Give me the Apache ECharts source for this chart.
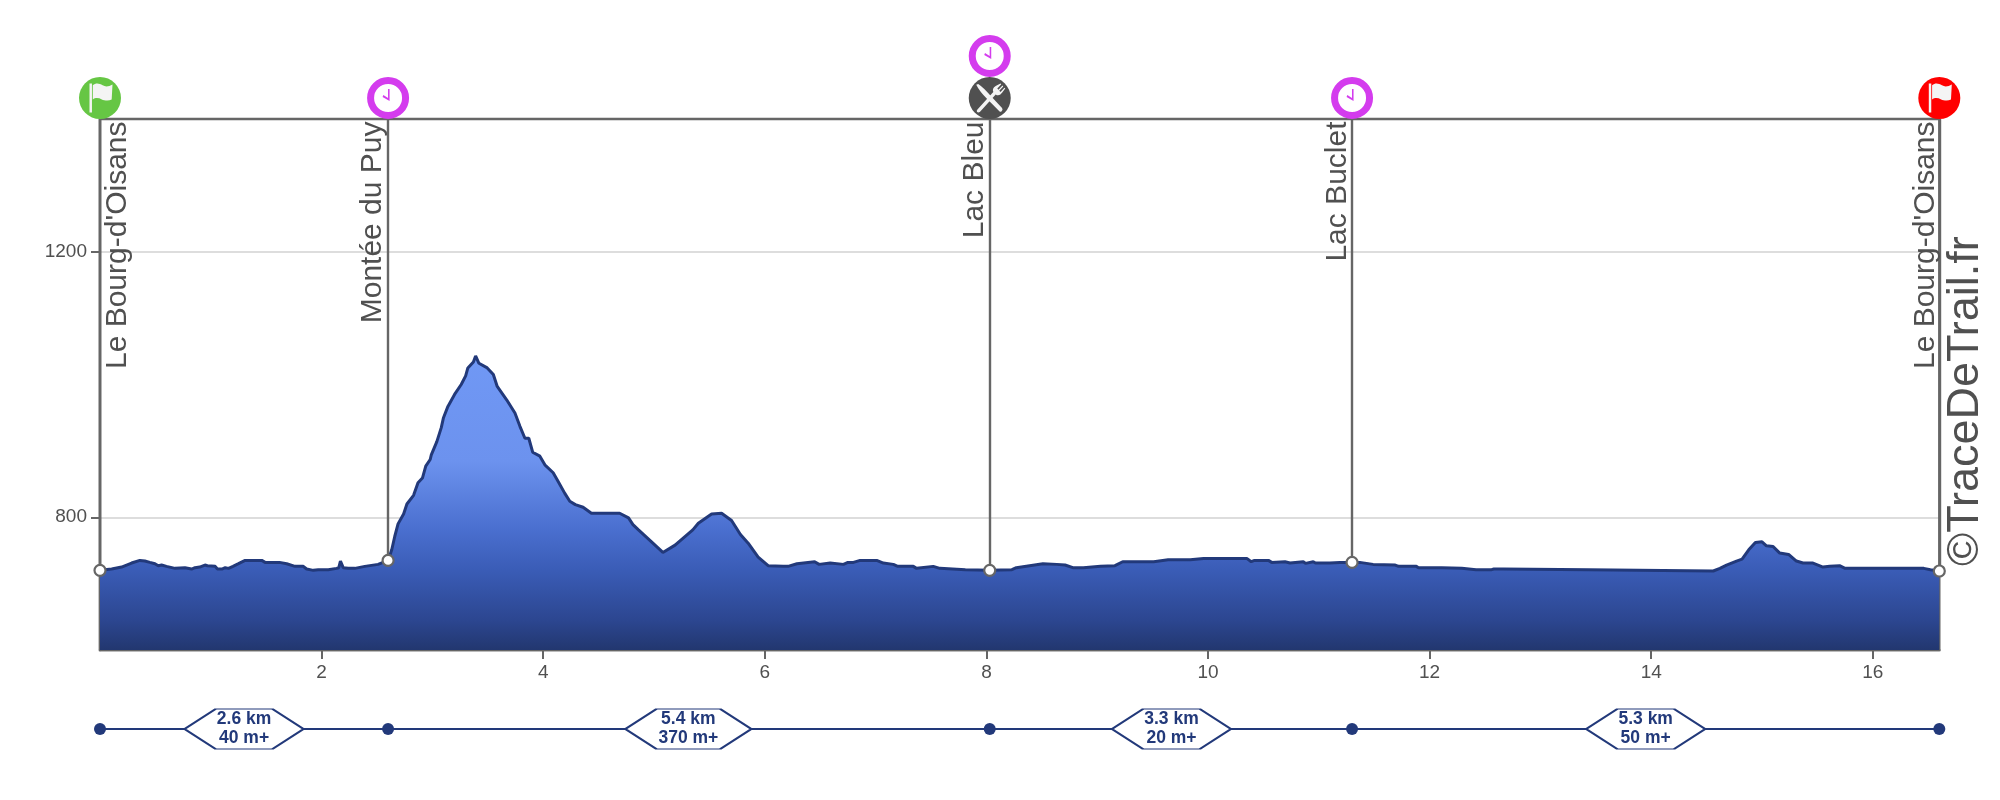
<!DOCTYPE html>
<html>
<head>
<meta charset="utf-8">
<style>html,body{margin:0;padding:0;background:#fff}#c{width:2000px;height:800px}</style>
<script src="https://cdn.jsdelivr.net/npm/echarts@6/dist/echarts.min.js"></script>
</head>
<body>
<div id="c"></div>
<script>
const profile = [
[0,720],[.105,722],[.195,725],[.285,731],[.36,735],[.405,734],[.45,732],[.496,730],[.526,727],[.556,728],[.6,726],[.677,723],[.767,724],[.827,722],[.857,724],[.9,725],[.947,728],[.97,727],[1.04,726],[1.06,722],[1.1,722],[1.13,724],[1.16,723],[1.2,726],[1.25,730],[1.31,735],[1.46,735],[1.49,732],[1.62,732],[1.685,730],[1.76,726],[1.835,726],[1.865,722],[1.925,720],[1.97,721],[2.06,721],[2.135,723],[2.155,724],[2.17,734],[2.195,724],[2.24,723],[2.3,723],[2.39,726],[2.51,729],[2.6,735],
[2.633,751],[2.66,771],[2.69,790],[2.74,805],[2.77,820],[2.83,833],[2.87,852],[2.91,859],[2.94,877],[2.98,887],[2.99,894],[3.04,914],[3.08,935],[3.1,950],[3.14,967],[3.2,985],[3.26,1000],[3.3,1013],[3.32,1025],[3.37,1034],[3.39,1043],[3.42,1032],[3.495,1025],[3.55,1015],[3.585,997],[3.67,977],[3.745,957],[3.79,937],[3.835,919],[3.87,919],[3.905,898],[3.97,892],[4.015,879],[4.09,867],[4.135,854],[4.195,836],[4.24,824],[4.29,819],[4.36,815],[4.435,806],[4.57,806],[4.69,806],[4.77,799],[4.81,789],[4.86,781],[4.99,761],[5.08,747],[5.19,758],[5.35,781],[5.4,791],[5.52,805],[5.61,806],[5.7,795],[5.78,774],[5.85,761],[5.94,740],[6.03,727],[6.165,726],[6.21,726],[6.29,730],[6.45,733],[6.49,729],[6.59,731],[6.71,729],[6.75,732],[6.8,732],[6.86,735],[7.01,735],[7.07,731],[7.16,729],[7.2,726],[7.34,726],[7.37,723],[7.52,726],[7.58,723],[7.81,721],[8.03,720],
[8.23,721],[8.27,724],[8.51,730],[8.635,729],[8.65,732],[8.71,728],[8.78,724],[8.875,724],[9.03,726],[9.16,727],[9.23,733],[9.51,733],[9.64,736],[9.84,736],[9.96,738],[10.35,738],[10.39,733],[10.42,735],[10.545,735],[10.575,732],[10.695,733],[10.74,731],[10.86,733],[10.88,730.5],[10.95,733],[10.97,731],[11.1,731],[11.19,732],[11.3,732],
[11.37,732],[11.49,729],[11.69,728],[11.72,726],[11.88,726],[11.9,724],[12.11,724],[12.12,723],[12.29,723],[12.42,721],[12.56,721],[12.58,722],[12.665,722],[12.68,721],[13.43,721],[13.435,719],[14.56,719],[14.62,723],[14.68,728],[14.77,734],[14.82,737],[14.88,751],[14.94,762],[15,763],[15.04,757],[15.1,756],[15.16,746],[15.24,744],[15.31,734],[15.37,731],[15.46,731],[15.55,725],[15.61,726],[15.7,727],[15.75,723],[16.46,723],[16.52,721],[16.6,719]
];
const waypointNames = ["Le Bourg-d'Oisans","Montée du Puy","Lac Bleu","Lac Buclet","Le Bourg-d'Oisans"];
const waypointKm = [0,2.6,8.03,11.3,16.6];
const waypointEle = [720,735,720,732,719];
const sectionKm = [1.3,5.31,9.67,13.95];
const sectionDist = ["2.6 km","5.4 km","3.3 km","5.3 km"];
const sectionGain = ["40 m+","370 m+","20 m+","50 m+"];
const xTicks = [2,4,6,8,10,12,14,16];
const yTicks = [800,1200];

const FONT = '"Liberation Sans", Arial, sans-serif';
const NAVY = '#22397a';
const GREY = '#666666';
const TEXT = '#505050';
const PURPLE = '#d43cee';
const TOP = 1400;
const NAME_NUDGE = [3,0,1,1,2];

const FLAG = 'path://M2 3L5 3L5 34L2 34ZM6 5C10 2 14 3 18 5C22 7 26 6 30 4L29 20C25 22 20 21 17 20C13 18 9 18 6 20Z';
const HANDS = 'path://M7 0L9 0L9 12L0 8L1 6L7 9Z';
const CUTLERY = 'path://M1 3L6 1Q20 10 36 28L66 58Q69 62 65 66Q61 69 58 65L28 36Q10 20 1 3ZM4 62L44 20L50 26L10 68Q6 70 3 68Q1 65 4 62ZM44 20Q40 12 50 6L62 0L64 2L54 12L57 15L67 5L69 7L59 17L62 20L72 10L74 12L66 22Q58 32 50 26Z';
const HEX_A = 'path://M0 20L31 0L88 0L119 20L88 40L31 40Z';
const HEX_B = 'path://M0 20L31 0L95 0L126 20L95 40L31 40Z';

const flatBadges = [
  {km:0, fill:'#66c644', glyph:FLAG, gs:[23,29], gx:1, gy:0, row:0},
  {km:16.6, fill:'#ff0000', glyph:FLAG, gs:[23,29], gx:1, gy:0, row:0},
  {km:8.03, fill:'#505050', glyph:CUTLERY, gs:[29,29], gx:1, gy:0, row:0}
];
const clocks = [{km:2.6,row:0},{km:8.03,row:1},{km:11.3,row:0}];
const rowOffset = r => r === 0 ? -21 : -63;

const chart = echarts.init(document.getElementById('c'), null, {renderer:'canvas'});
chart.setOption({
  animation:false,
  backgroundColor:'#fff',
  textStyle:{fontFamily:FONT},
  grid:[
    {left:100, top:119, width:1839.3, height:531, show:true, backgroundColor:'transparent', borderColor:GREY, borderWidth:2.4, containLabel:false, z:1},
    {left:100, top:699, width:1839.3, height:60, show:false}
  ],
  xAxis:[
    {type:'value', gridIndex:0, min:0, max:16.6,
     axisLine:{show:true,onZero:false,lineStyle:{color:GREY,width:2.4}},
     axisTick:{show:true,length:9,customValues:xTicks,lineStyle:{color:GREY,width:2}},
     axisLabel:{show:true,customValues:xTicks,color:TEXT,fontSize:19,margin:13,fontFamily:FONT,formatter:v=>String(v)},
     splitLine:{show:false}},
    {type:'value', gridIndex:1, min:0, max:16.6, show:false}
  ],
  yAxis:[
    {type:'value', gridIndex:0, min:600, max:TOP,
     axisLine:{show:true,lineStyle:{color:GREY,width:2.4}},
     axisTick:{show:true,length:9,customValues:yTicks,lineStyle:{color:GREY,width:2}},
     axisLabel:{show:true,customValues:yTicks,color:TEXT,fontSize:19,margin:13,fontFamily:FONT,formatter:v=>String(v)},
     splitLine:{show:true,lineStyle:{color:'#dddddd',width:2}}},
    {type:'value', gridIndex:1, min:-1, max:1, show:false}
  ],
  graphic:[{
    type:'text', x:1966, y:566, rotation:Math.PI/2, z:50,
    style:{text:'©TraceDeTrail.fr', fill:TEXT, font:'45px '+FONT, textAlign:'left', textVerticalAlign:'middle'}
  }],
  series:[
    {name:'profile', type:'line', xAxisIndex:0, yAxisIndex:0, data:profile, symbol:'none', smooth:false, z:3,
     lineStyle:{color:NAVY,width:3},
     areaStyle:{origin:'start',opacity:1,color:{type:'linear',x:0,y:0,x2:0,y2:1,colorStops:[
       {offset:0,color:'#7098f5'},{offset:.36,color:'#6c92ee'},{offset:.59,color:'#4a6fcf'},
       {offset:.73,color:'#3a5cb6'},{offset:.9,color:'#2c4690'},{offset:1,color:'#22376f'}]}},
     markLine:{silent:true,symbol:'none',label:{show:false},animation:false,z:4,
       lineStyle:{color:GREY,width:2.4,type:'solid'},
       data:waypointKm.map((k,i)=>[{coord:[k,waypointEle[i]]},{coord:[k,TOP]}])}
    },
    {name:'waypoints', type:'scatter', xAxisIndex:0, yAxisIndex:0, clip:false, z:6, symbol:'circle', symbolSize:11,
     itemStyle:{color:'#fff',borderColor:GREY,borderWidth:2.2,opacity:1},
     data:waypointKm.map((k,i)=>[k,waypointEle[i]])},
    {name:'names', type:'scatter', xAxisIndex:0, yAxisIndex:0, clip:false, z:7, symbol:'circle', symbolSize:1,
     itemStyle:{color:'rgba(0,0,0,0)',opacity:1},
     data:waypointKm.map((k,i)=>({value:[k,TOP],name:waypointNames[i],
       label:{show:true,formatter:waypointNames[i],rotate:90,position:[NAME_NUDGE[i],3],align:'right',
         verticalAlign:i===0?'top':'bottom',color:TEXT,fontSize:30,fontFamily:FONT}}))},
    {name:'badges', type:'scatter', xAxisIndex:0, yAxisIndex:0, clip:false, z:8, symbol:'circle', symbolSize:42,
     data:flatBadges.map(b=>({value:[b.km,TOP],symbolOffset:[0,rowOffset(b.row)],itemStyle:{color:b.fill,opacity:1}}))},
    {name:'badgeGlyphs', type:'scatter', xAxisIndex:0, yAxisIndex:0, clip:false, z:9,
     data:flatBadges.map(b=>({value:[b.km,TOP],symbol:b.glyph,symbolSize:b.gs,
       symbolOffset:[b.gx,rowOffset(b.row)+b.gy],itemStyle:{color:'#f4f4f4',opacity:1}}))},
    {name:'clocks', type:'scatter', xAxisIndex:0, yAxisIndex:0, clip:false, z:8, symbol:'circle', symbolSize:35,
     itemStyle:{color:'#fff',borderColor:PURPLE,borderWidth:7,opacity:1},
     data:clocks.map(c=>({value:[c.km,TOP],symbolOffset:[0,rowOffset(c.row)]}))},
    {name:'clockHands', type:'scatter', xAxisIndex:0, yAxisIndex:0, clip:false, z:9, symbol:HANDS, symbolSize:[7,12],
     itemStyle:{color:PURPLE,opacity:1},
     data:clocks.map(c=>({value:[c.km,TOP],symbolOffset:[-2,rowOffset(c.row)-3]}))},
    {name:'sections', type:'line', xAxisIndex:1, yAxisIndex:1, z:3, symbol:'circle', symbolSize:12,
     lineStyle:{color:NAVY,width:2}, itemStyle:{color:NAVY,opacity:1},
     data:waypointKm.map(k=>[k,0])},
    {name:'sectionTags', type:'scatter', xAxisIndex:1, yAxisIndex:1, z:5, clip:false,
     itemStyle:{color:'#fff',borderColor:NAVY,borderWidth:2,opacity:1},
     data:sectionKm.map((k,i)=>({value:[k,0],symbol:i===1?HEX_B:HEX_A,symbolSize:[i===1?126:119,40],
       label:{show:true,position:'inside',formatter:sectionDist[i]+'\n'+sectionGain[i],
         color:NAVY,fontSize:17.5,fontWeight:'bold',lineHeight:19,fontFamily:FONT}}))}
  ]
});
</script>
</body>
</html>
